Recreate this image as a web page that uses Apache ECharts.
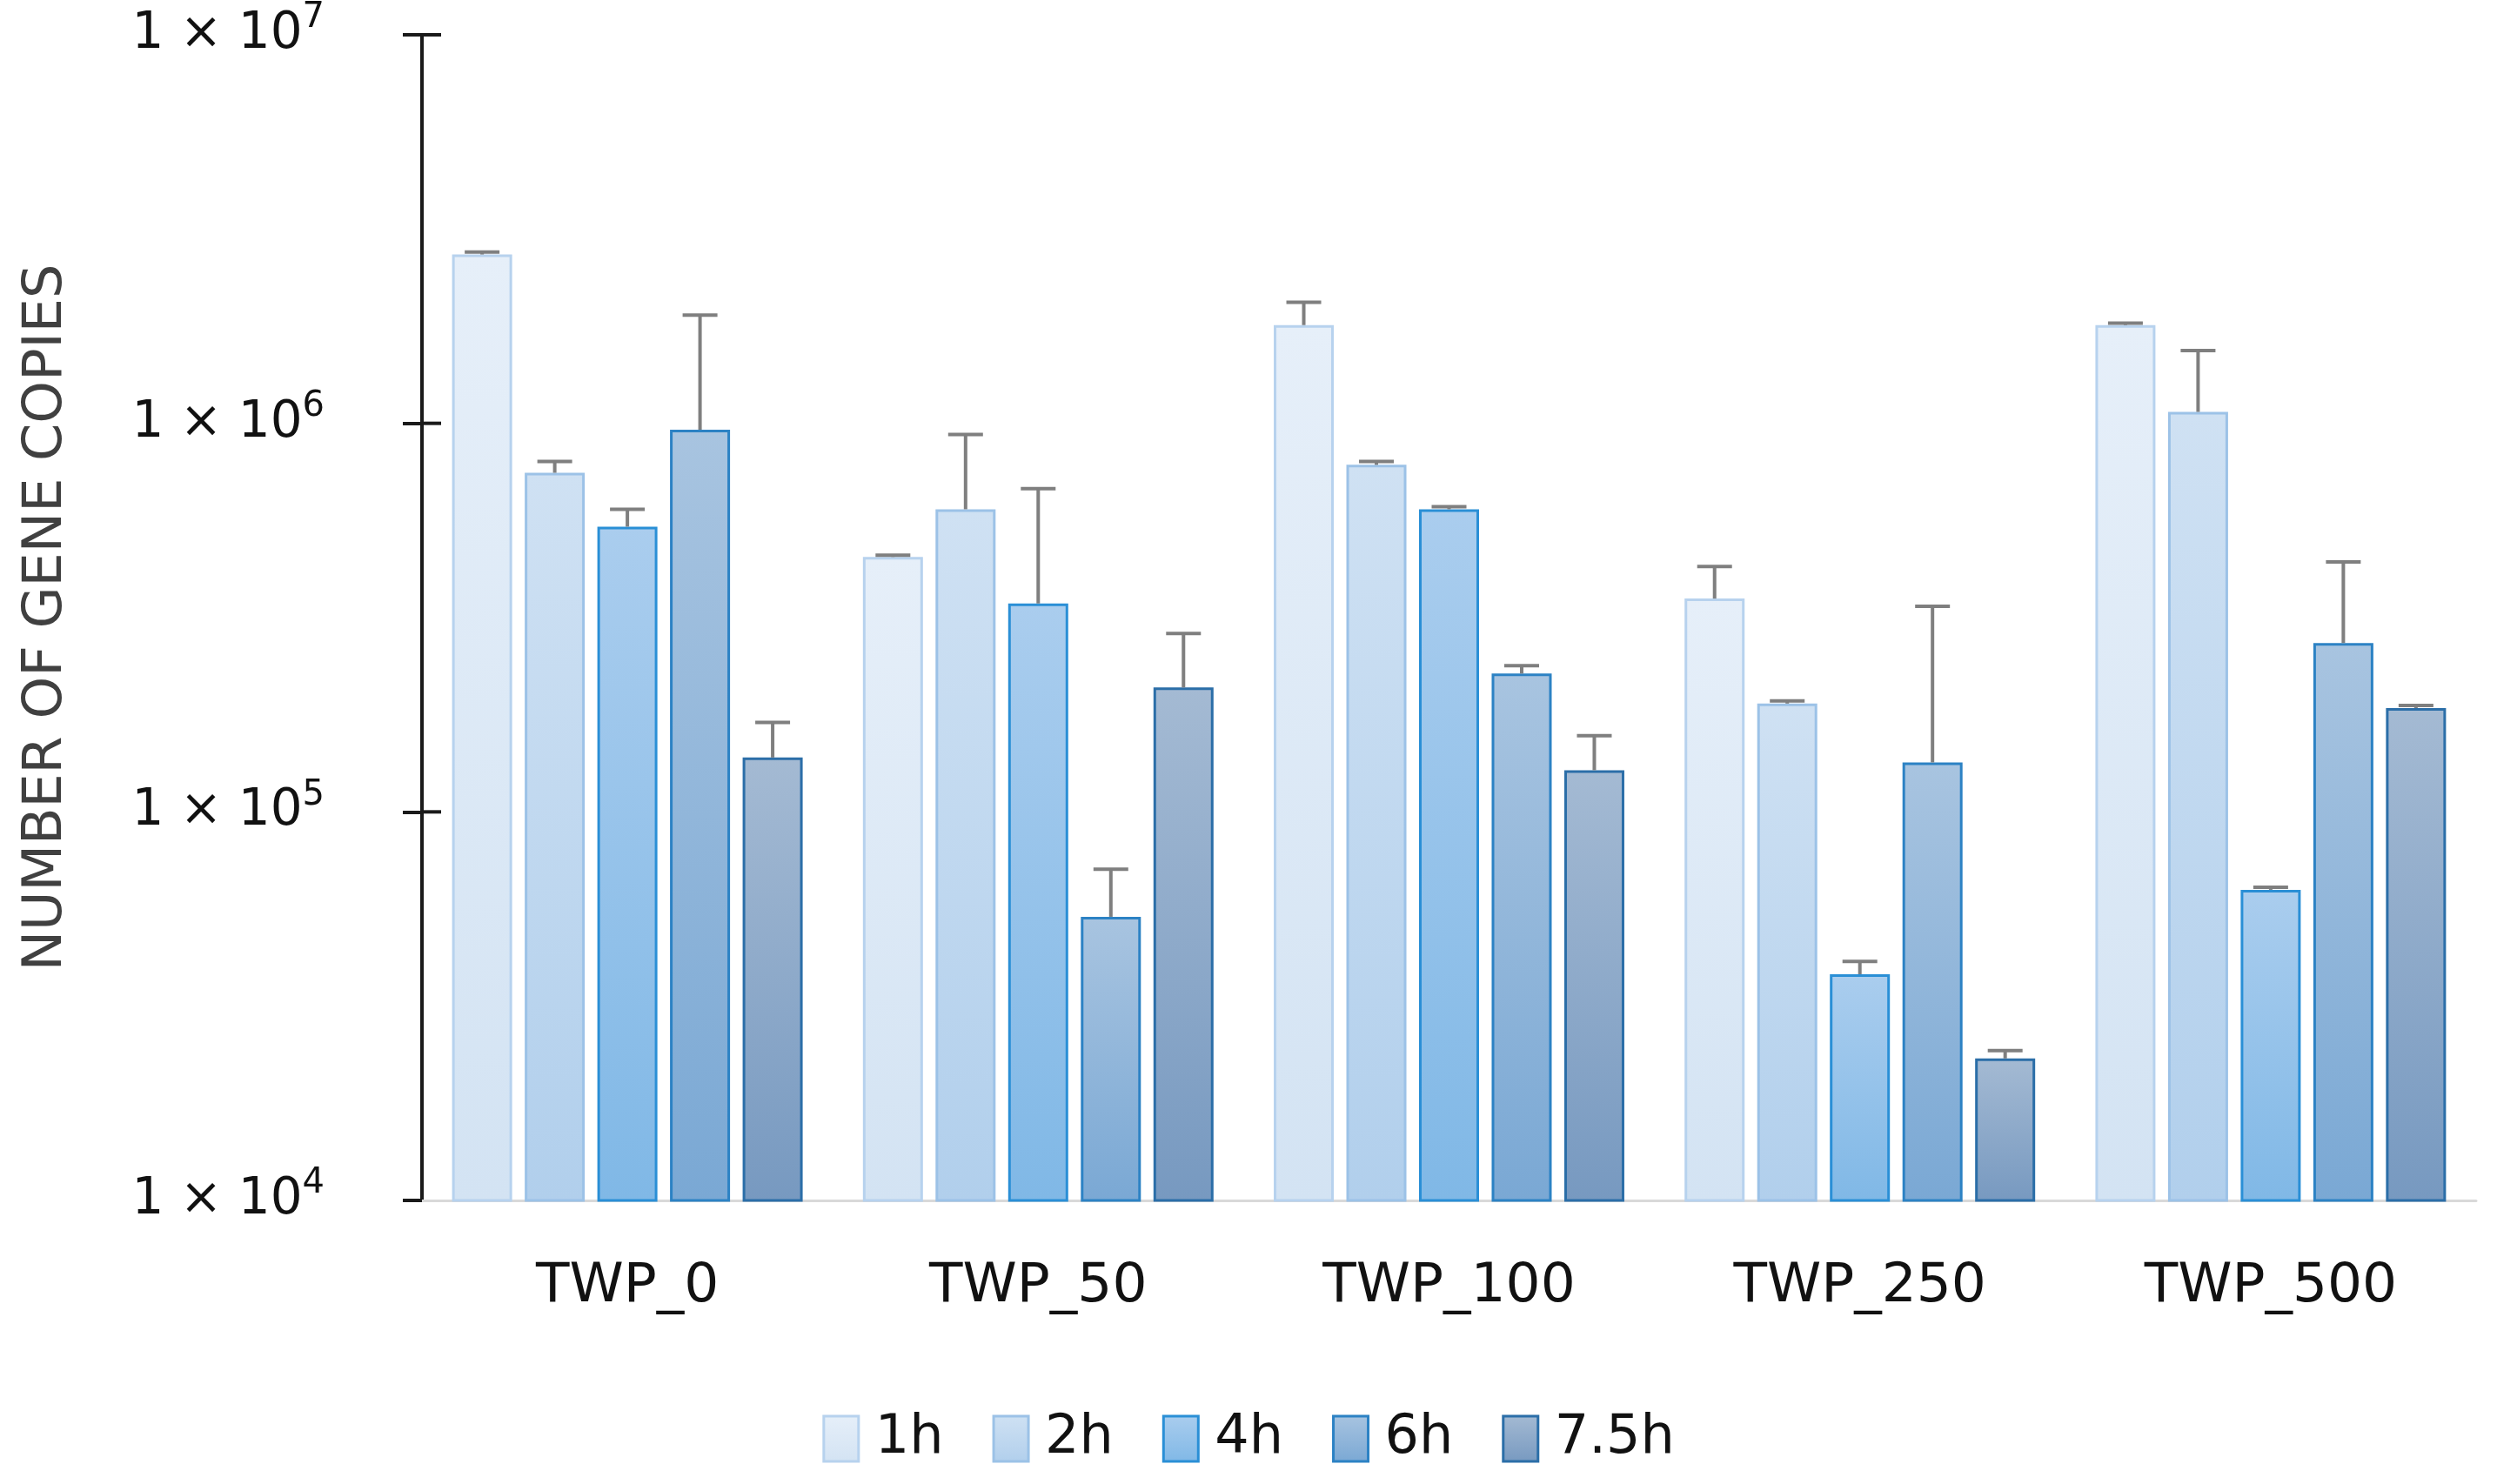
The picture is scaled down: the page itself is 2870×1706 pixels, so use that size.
<!DOCTYPE html>
<html>
<head>
<meta charset="utf-8">
<script src="https://cdn.jsdelivr.net/npm/echarts@6/dist/echarts.min.js"></script>
<style>
html,body{margin:0;padding:0;background:#fff;}
#chart{width:2870px;height:1706px;}
</style>
</head>
<body>
<div id="chart"></div>
<script>
// ---- data ----
const categories = ['TWP_0', 'TWP_50', 'TWP_100', 'TWP_250', 'TWP_500'];
const seriesNames = ['1h', '2h', '4h', '6h', '7.5h'];
// mean values (number of gene copies)
const val1h  = [2.72e6, 4.53e5, 1.79e6, 3.54e5, 1.79e6];
const val2h  = [7.46e5, 6.01e5, 7.82e5, 1.90e5, 1.07e6];
const val4h  = [5.42e5, 3.44e5, 6.01e5, 3.82e4, 6.30e4];
const val6h  = [9.63e5, 5.37e4, 2.27e5, 1.34e5, 2.72e5];
const val75h = [1.38e5, 2.09e5, 1.28e5, 2.32e4, 1.85e5];
// upper end of the error bars
const up1h  = [2.76e6, 4.58e5, 2.05e6, 4.28e5, 1.81e6];
const up2h  = [7.98e5, 9.36e5, 7.98e5, 1.93e5, 1.54e6];
const up4h  = [6.01e5, 6.79e5, 6.10e5, 4.12e4, 6.40e4];
const up6h  = [1.90e6, 7.12e4, 2.38e5, 3.38e5, 4.40e5];
const up75h = [1.70e5, 2.88e5, 1.57e5, 2.43e4, 1.88e5];
const yTicks = [1e4, 1e5, 1e6, 1e7];

const values = [val1h, val2h, val4h, val6h, val75h];
const uppers = [up1h, up2h, up4h, up6h, up75h];

// ---- styles ----
const fills = [
  ['#e6eff9', '#d3e3f3'],
  ['#cfe1f3', '#b1cfec'],
  ['#aacdee', '#80b8e6'],
  ['#a8c4e0', '#7aa8d4'],
  ['#a4bad3', '#7799c0']
];
const borders = ['#b7d2ee', '#9cc2e7', '#2a8fd6', '#2c82c4', '#2b6ea8'];
const BAR_W = 69;
const BAR_GAP = 0.21;
const TICK_LEN = 22;
const FONT = 'DejaVu Sans';

function grad(c) {
  return new echarts.graphic.LinearGradient(0, 0, 0, 1, [
    {offset: 0, color: c[0]}, {offset: 1, color: c[1]}
  ]);
}

const series = seriesNames.map((name, i) => ({
  name: name,
  type: 'bar',
  barWidth: BAR_W,
  barGap: (BAR_GAP * 100) + '%',
  data: values[i],
  itemStyle: {color: grad(fills[i]), borderColor: borders[i], borderWidth: 3},
  emphasis: {disabled: true}
}));

const errData = [];
values.forEach((arr, si) => {
  arr.forEach((v, ci) => errData.push([ci, v, uppers[si][ci], si]));
});

series.push({
  type: 'custom',
  name: 'err',
  z: 10,
  silent: true,
  data: errData,
  encode: {x: 0, y: [1, 2]},
  renderItem: function (params, api) {
    const ci = api.value(0);
    const si = api.value(3);
    const step = BAR_W * (1 + BAR_GAP);
    const off = (si - 2) * step;
    const lo = api.coord([ci, api.value(1)]);
    const hi = api.coord([ci, api.value(2)]);
    const x = lo[0] + off;
    const hw = 20;
    const st = {stroke: '#7f7f7f', lineWidth: 4};
    return {
      type: 'group',
      children: [
        {type: 'line', shape: {x1: x, y1: lo[1], x2: x, y2: hi[1]}, style: st},
        {type: 'line', shape: {x1: x - hw, y1: hi[1], x2: x + hw, y2: hi[1]}, style: st}
      ]
    };
  }
});

// inner half of the cross-shaped y-axis ticks (through the axis scale)
series.push({
  type: 'custom',
  name: 'innerTicks',
  z: 20,
  silent: true,
  clip: false,
  data: yTicks.slice(1).map(v => [0, v]),
  encode: {x: 0, y: 1},
  renderItem: function (params, api) {
    const y = api.coord([0, api.value(1)])[1];
    const x0 = params.coordSys.x;
    return {
      type: 'line',
      shape: {x1: x0, y1: y, x2: x0 + TICK_LEN, y2: y},
      style: {stroke: '#1a1a1a', lineWidth: 4}
    };
  }
});

const chart = echarts.init(document.getElementById('chart'));
chart.setOption({
  animation: false,
  backgroundColor: '#fff',
  grid: {left: 485, right: 24, top: 40, bottom: 326, containLabel: false},
  legend: {
    data: seriesNames.map((n, i) => ({name: n, itemStyle: {color: grad(fills[i]), borderColor: borders[i], borderWidth: 3}})),
    bottom: 16,
    left: 'center',
    icon: 'rect',
    itemWidth: 40,
    itemHeight: 52,
    itemGap: 56,
    textStyle: {fontFamily: FONT, fontSize: 62, color: '#111', padding: [0, 0, 0, 14]}
  },
  xAxis: {
    type: 'category',
    data: categories,
    axisLine: {lineStyle: {color: '#d9d9d9', width: 3}},
    axisTick: {show: false},
    axisLabel: {fontFamily: FONT, fontSize: 63, color: '#111', margin: 68}
  },
  yAxis: {
    type: 'log',
    logBase: 10,
    min: yTicks[0],
    max: yTicks[yTicks.length - 1],
    name: 'NUMBER OF GENE COPIES',
    nameLocation: 'middle',
    nameGap: 400,
    nameTextStyle: {fontFamily: FONT, fontSize: 62, color: '#404040'},
    axisLine: {show: true, lineStyle: {color: '#1a1a1a', width: 4}},
    axisTick: {show: true, length: TICK_LEN, lineStyle: {color: '#1a1a1a', width: 4}},
    splitLine: {show: false},
    axisLabel: {
      margin: 112,
      formatter: function (v) {
        const e = Math.round(Math.log10(v));
        return '{b|1 \u00d7 10}{s|' + e + '}';
      },
      rich: {
        b: {fontFamily: FONT, fontSize: 58, color: '#111'},
        s: {fontFamily: FONT, fontSize: 40, color: '#111', padding: [0, 0, 38, 0]}
      }
    }
  },
  series: series
});
</script>
</body>
</html>
